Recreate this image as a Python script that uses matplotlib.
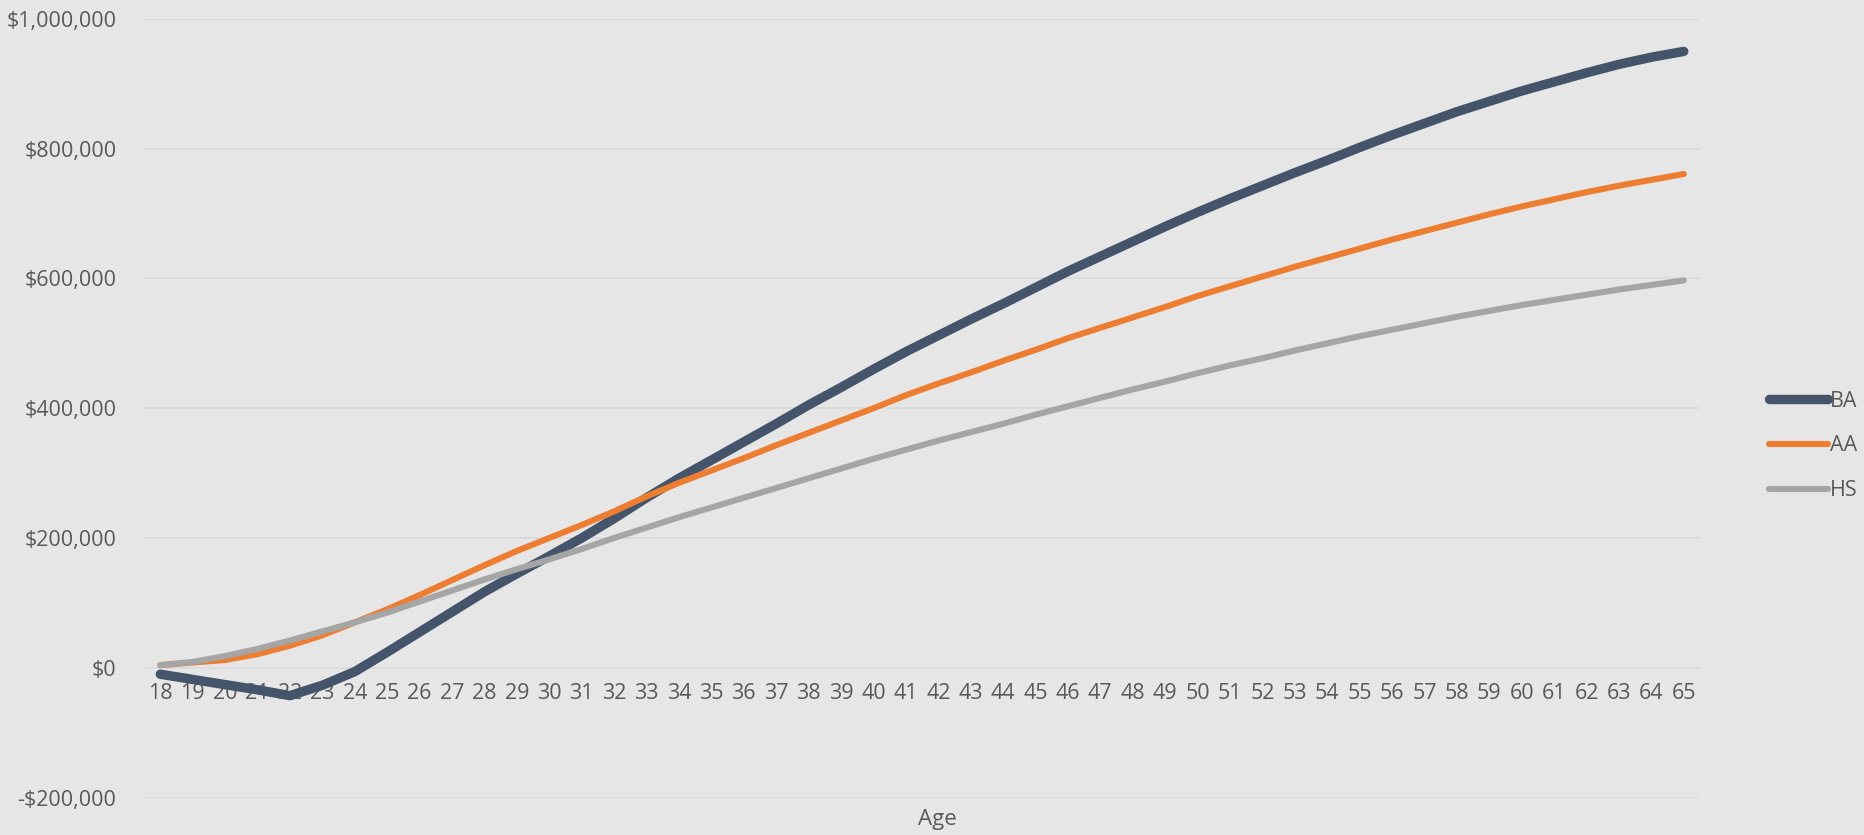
import matplotlib.pyplot as plt
from matplotlib.ticker import FuncFormatter, MultipleLocator

# Cumulative net earnings by age, in thousands of dollars
ages = list(range(18, 66))

ba = [-10, -18, -26, -34, -43, -27, -6, 24, 55, 86,
      117, 145, 172, 200, 230, 262, 292, 320, 348, 376,
      405, 432, 460, 487, 512, 537, 561, 586, 611, 634,
      657, 680, 702, 723, 743, 763, 782, 802, 821, 839,
      857, 873, 889, 903, 917, 930, 941, 950]

aa = [4, 8, 12, 21, 34, 50, 70, 90, 112, 135,
      158, 180, 200, 220, 241, 264, 285, 304, 323, 343,
      362, 381, 400, 420, 438, 455, 473, 490, 508, 524,
      540, 556, 573, 588, 603, 618, 632, 646, 660, 673,
      686, 699, 711, 722, 733, 743, 752, 761]

hs = [4, 9, 18, 29, 42, 56, 70, 85, 102, 119,
      136, 152, 167, 183, 200, 216, 232, 247, 262, 277,
      292, 307, 322, 336, 350, 363, 376, 390, 403, 416,
      429, 441, 454, 466, 477, 489, 500, 511, 521, 531,
      541, 550, 559, 567, 575, 583, 590, 597]

series_names = ["BA", "AA", "HS"]
series_colors = ["#44546A", "#ED7D31", "#A5A5A5"]
series_widths = [6.8, 4.4, 4.4]

BG = "#E7E6E6"
TEXT = "#595959"
plt.rcParams['font.family'] = ['Open Sans', 'DejaVu Sans']

fig = plt.figure(figsize=(18.64, 8.35), dpi=100, facecolor=BG)
ax = fig.add_axes([0.0773, 0.0449, 0.8347, 0.9324])
ax.set_facecolor(BG)

for vals, name, color, lw in zip([ba, aa, hs], series_names, series_colors, series_widths):
    ax.plot(ages, [v * 1000 for v in vals], color=color, lw=lw, label=name,
            solid_capstyle='round', solid_joinstyle='round', zorder=3)

ax.set_xlim(17.5, 65.5)
ax.set_ylim(-200000, 1000000)
ax.yaxis.set_major_locator(MultipleLocator(200000))


def money(v, pos):
    if v < 0:
        return "-${:,.0f}".format(-v)
    return "${:,.0f}".format(v)


ax.yaxis.set_major_formatter(FuncFormatter(money))
ax.set_xticks(ages)
ax.set_xticklabels([str(a) for a in ages])

ax.grid(axis='y', color="#D9D9D9", lw=1.2, zorder=0)
for s in ["top", "right", "left"]:
    ax.spines[s].set_visible(False)
ax.spines["bottom"].set_position(("data", 0))
ax.spines["bottom"].set_visible(False)
ax.tick_params(axis='x', length=0, pad=11, labelsize=15.5, labelcolor=TEXT)
ax.tick_params(axis='y', length=0, pad=20, labelsize=15.5, labelcolor=TEXT)

fig.text(0.503, 0.018, "Age", ha='center', va='center', fontsize=16, color=TEXT)

leg = fig.legend(loc='center left', bbox_to_anchor=(0.949, 0.466), frameon=False,
                 fontsize=15.5, handlelength=2.75, handletextpad=0.1, labelspacing=1.1,
                 borderpad=0, borderaxespad=0)
for t in leg.get_texts():
    t.set_color(TEXT)

fig.savefig("out.png", dpi=100, facecolor=BG)
